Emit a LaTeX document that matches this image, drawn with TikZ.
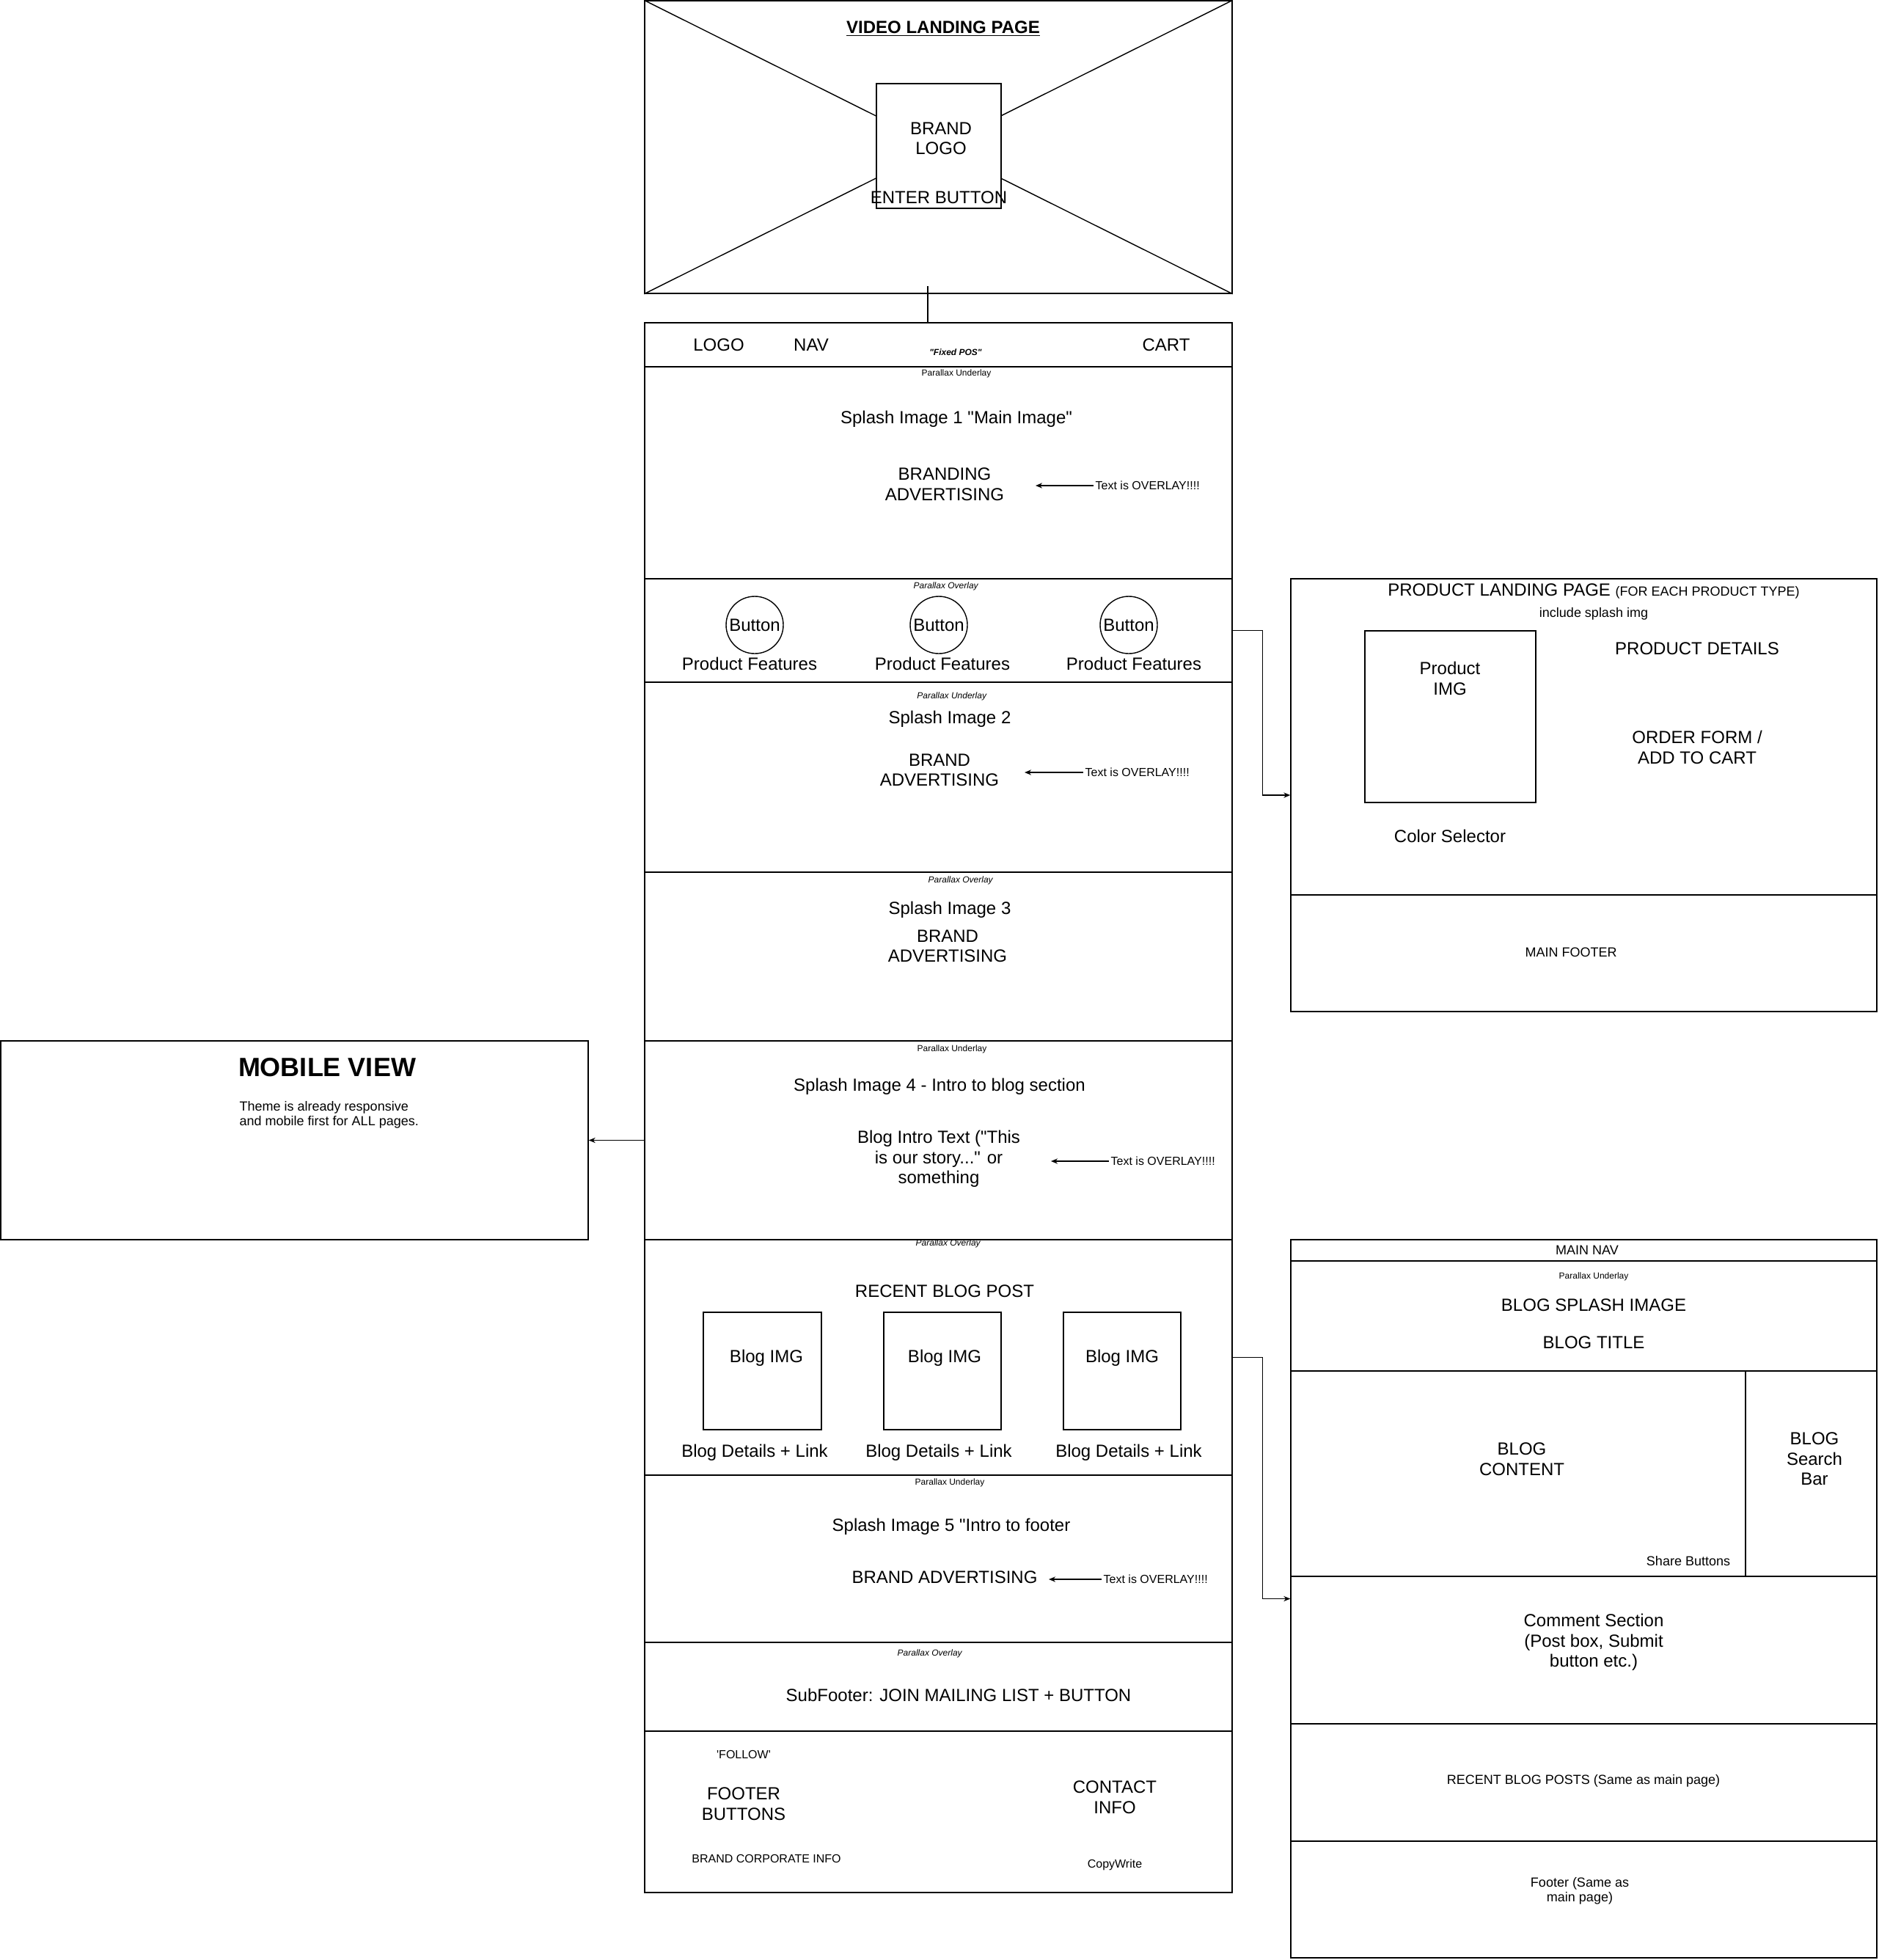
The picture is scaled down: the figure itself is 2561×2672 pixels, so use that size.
\documentclass[tikz,border=0pt]{standalone}
\usepackage{fontspec}
\setmainfont{Liberation Sans}
\usetikzlibrary{calc}
\usetikzlibrary{arrows.meta}
\newcommand*{\px  }{0.5pt}
\newcommand*{\pgw }{801*\px}
\newcommand*{\sdw }{799*\px}
\newcommand*{\dq  }{\textquotedbl}

\begin{document}
\begin{tikzpicture}[x=\px, y=-\px, line width=0.7pt, font=\fontsize{12}{13.8}\selectfont,
    sect/.style={draw, inner sep=0pt, minimum width=\pgw},
    side/.style={draw, inner sep=0pt, minimum width=\sdw},
    txt/.style={align=center, inner sep=1pt},
    sm/.style={txt, font=\fontsize{9}{10.3}\selectfont},
    tn/.style={txt, font=\fontsize{8}{9.2}\selectfont},
    plx/.style={txt, font=\fontsize{6}{7}\selectfont},
    arr/.style={-{Stealth[length=4.5pt, width=3.6pt]}}]
    \useasboundingbox (0,0) rectangle (2561,2672);

    % video landing page
    \node [sect, minimum height=399*\px] (video) at (1279.5,200.5) {};
    \draw (video.north west) -- (video.south east) (video.south west) -- (video.north east);
    \node [draw, fill=white, inner sep=0pt, minimum width=170*\px, minimum height=170*\px] (logobox) at (1280,199) {};
    \node [txt] (vidtitle) at (1286,39) {\underline{\textbf{VIDEO LANDING PAGE}}};
    \node [txt] (brandlogo) at (1283,189) {BRAND\\LOGO};
    \node [txt] (enterbtn) at (1280,269) {ENTER BUTTON};

    % main page sections
    \node [sect, minimum height= 60*\px] (navbar)  at (1279.5, 470.0) {};
    \node [sect, minimum height=289*\px] (splash1) at (1279.5, 644.5) {};
    \node [sect, minimum height=141*\px] (btnrow)  at (1279.5, 859.5) {};
    \node [sect, minimum height=259*\px] (splash2) at (1279.5,1059.5) {};
    \node [sect, minimum height=230*\px] (splash3) at (1279.5,1304.0) {};
    \node [sect, minimum height=271*\px] (splash4) at (1279.5,1554.5) {};
    \node [sect, minimum height=321*\px] (blogrow) at (1279.5,1850.5) {};
    \node [sect, minimum height=228*\px] (splash5) at (1279.5,2125.0) {};
    \node [sect, minimum height=121*\px] (subfoot) at (1279.5,2299.5) {};
    \node [sect, minimum height=220*\px] (footer)  at (1279.5,2470.0) {};
    \coordinate (vidlink) at (1265,390);
    \draw (vidlink) -- (vidlink |- navbar.north);

    % nav bar
    \node [txt] (logo) at (980,470) {LOGO};
    \node [txt] (nav)  at (1106,470) {NAV};
    \node [plx] (fixpos) at (1303,480) {\textbf{\textit{\dq Fixed POS\dq}}};
    \node [txt] (cart) at (1590,470) {CART};

    % splash 1
    \node [plx] (plx1) at (1304,509) {Parallax Underlay};
    \node [txt] (spl1) at (1304,571) {Splash Image 1 \dq Main Image\dq};
    \node [txt] (adv1) at (1288,660) {BRANDING\\ADVERTISING};
    \node [tn, anchor=west] (note1) at (1491,662) {Text is OVERLAY!!!!};
    \draw [arr] (note1.west) -- ++(-79,0);

    % product features
    \node [plx] (plx2) at (1290,799) {\textit{Parallax Overlay}};
    \node [draw, circle, inner sep=0pt, minimum size=78*\px] (btnA) at (1029,852) {Button};
    \node [draw, circle, inner sep=0pt, minimum size=78*\px] (btnB) at (1280,852) {Button};
    \node [draw, circle, inner sep=0pt, minimum size=78*\px] (btnC) at (1539,852) {Button};
    \node [txt] (featA) at (1022,905) {Product Features};
    \node [txt] (featB) at (1285,905) {Product Features};
    \node [txt] (featC) at (1546,905) {Product Features};

    % splash 2
    \node [plx] (plx3) at (1298,949) {\textit{Parallax Underlay}};
    \node [txt] (spl2) at (1295,980) {Splash Image 2};
    \node [txt] (adv2) at (1281,1050) {BRAND\\ADVERTISING};
    \node [tn, anchor=west] (note2) at (1477,1053) {Text is OVERLAY!!!!};
    \draw [arr] (note2.west) -- ++(-80,0);

    % splash 3
    \node [plx] (plx4) at (1310,1200) {\textit{Parallax Overlay}};
    \node [txt] (spl3) at (1295,1240) {Splash Image 3};
    \node [txt] (adv3) at (1292,1290) {BRAND\\ADVERTISING};

    % splash 4
    \node [plx] (plx5) at (1298,1430) {Parallax Underlay};
    \node [txt] (spl4) at (1281,1481) {Splash Image 4 - Intro to blog section};
    \node [txt] (intro) at (1280,1580) {Blog Intro Text (\dq This\\is our story...\dq{} or\\something};
    \node [tn, anchor=west] (note4) at (1512,1583) {Text is OVERLAY!!!!};
    \draw [arr] (note4.west) -- ++(-79,0);

    % recent blog posts
    \node [plx] (plx6) at (1293,1695) {\textit{Parallax Overlay}};
    \node [txt] (recent) at (1288,1760) {RECENT BLOG POST};
    \node [draw, inner sep=0pt, minimum width=161*\px, minimum height=160*\px] (imgA) at (1039.5,1869) {};
    \node [draw, inner sep=0pt, minimum width=160*\px, minimum height=160*\px] (imgB) at (1285,1869) {};
    \node [draw, inner sep=0pt, minimum width=160*\px, minimum height=160*\px] (imgC) at (1530,1869) {};
    \node [txt] (imgtA) at (1045,1851) {Blog IMG};
    \node [txt] (imgtB) at (1288,1851) {Blog IMG};
    \node [txt] (imgtC) at (1530,1851) {Blog IMG};
    \node [txt] (linkA) at (1029,1980) {Blog Details + Link};
    \node [txt] (linkB) at (1280,1980) {Blog Details + Link};
    \node [txt] (linkC) at (1539,1980) {Blog Details + Link};

    % splash 5
    \node [plx] (plx7) at (1295,2021) {Parallax Underlay};
    \node [txt] (spl5) at (1297,2081) {Splash Image 5 \dq Intro to footer};
    \node [txt] (adv5) at (1288,2150) {BRAND ADVERTISING};
    \node [tn, anchor=west] (note5) at (1502,2153) {Text is OVERLAY!!!!};
    \draw [arr] (note5.west) -- ++(-72,0);

    % subfooter and footer
    \node [plx] (plx8) at (1268,2254) {\textit{Parallax Overlay}};
    \node [txt] (mailing) at (1307,2311) {SubFooter: JOIN MAILING LIST + BUTTON};
    \node [tn]  (follow)  at (1014,2392) {\textquotesingle FOLLOW\textquotesingle};
    \node [txt] (footbtn) at (1014,2459) {FOOTER\\BUTTONS};
    \node [tn]  (corp)    at (1045,2534) {BRAND CORPORATE INFO};
    \node [txt] (contact) at (1520,2450) {CONTACT\\INFO};
    \node [tn]  (copyw)   at (1520,2542) {CopyWrite};

    % mobile view
    \node [sect, minimum height=271*\px] (mobile) at (401.5,1554.5) {};
    \node [txt, font=\fontsize{18}{21}\selectfont\bfseries] (mobtitle) at (446,1455) {MOBILE VIEW};
    \node [sm, anchor=west, align=left] (mobtext) at (324,1520) {Theme is already responsive\\and mobile first for ALL pages.};
    \draw [arr] (splash4.west) -- (mobile.east);

    % product landing page
    \node [side, minimum height=431*\px] (prodtop)  at (2159.5,1004.5) {};
    \node [side, minimum height=159*\px] (prodfoot) at (2159.5,1299.5) {};
    \node [txt] (prodtitle) at (2173,806) {PRODUCT LANDING PAGE {\fontsize{9}{10}\selectfont (FOR EACH PRODUCT TYPE)}};
    \node [sm]  (splashimg) at (2173,837) {include splash img};
    \node [draw, inner sep=0pt, minimum width=233*\px, minimum height=234*\px] (prodimg) at (1977.5,977) {};
    \node [txt] (prodimgt)  at (1977,925) {Product\\IMG};
    \node [txt] (proddet)   at (2314,884) {PRODUCT DETAILS};
    \node [txt] (order)     at (2314,1019) {ORDER FORM /\\ADD TO CART};
    \node [txt] (colour)    at (1977,1140) {Color Selector};
    \node [sm]  (mainfoot)  at (2142,1298) {MAIN FOOTER};
    \coordinate (prodin) at ($(prodtop.north west)!.5!(prodfoot.south west)$);
    \draw [arr] (btnrow.east) -- ++(41,0) |- (prodin);

    % blog page
    \node [side, minimum height= 29*\px] (bnav)    at (2159.5,1704.5) {};
    \node [side, minimum height=150*\px] (bsplash) at (2159.5,1794.0) {};
    \node [draw, inner sep=0pt, minimum width=620*\px, minimum height=280*\px] (bcontent) at (2070,2009) {};
    \node [draw, inner sep=0pt, minimum width=179*\px, minimum height=280*\px] (bsearch)  at (2469.5,2009) {};
    \node [side, minimum height=201*\px] (bcomment) at (2159.5,2249.5) {};
    \node [side, minimum height=160*\px] (brecent)  at (2159.5,2430.0) {};
    \node [side, minimum height=159*\px] (bfoot)    at (2159.5,2589.5) {};
    \node [sm]  (bnavt)   at (2164,1704) {MAIN NAV};
    \node [plx] (plx9)    at (2173,1740) {Parallax Underlay};
    \node [txt] (bsplt)   at (2173,1779) {BLOG SPLASH IMAGE};
    \node [txt] (btitle)  at (2173,1830) {BLOG TITLE};
    \node [txt] (bcontt)  at (2075,1989) {BLOG\\CONTENT};
    \node [sm]  (share)   at (2302,2128) {Share Buttons};
    \node [txt] (bsearcht) at (2474,1989) {BLOG\\Search\\Bar};
    \node [txt] (bcommt)  at (2173,2239) {Comment Section\\(Post box, Submit\\button etc.)};
    \node [sm]  (brect)   at (2159,2428) {RECENT BLOG POSTS (Same as main page)};
    \node [sm]  (bfoott)  at (2154,2578) {Footer (Same as\\main page)};
    \coordinate (blogin) at ($(bnav.north west)!.5!(bfoot.south west)$);
    \draw [arr] (blogrow.east) -- ++(41,0) |- (blogin);
\end{tikzpicture}
\end{document}
